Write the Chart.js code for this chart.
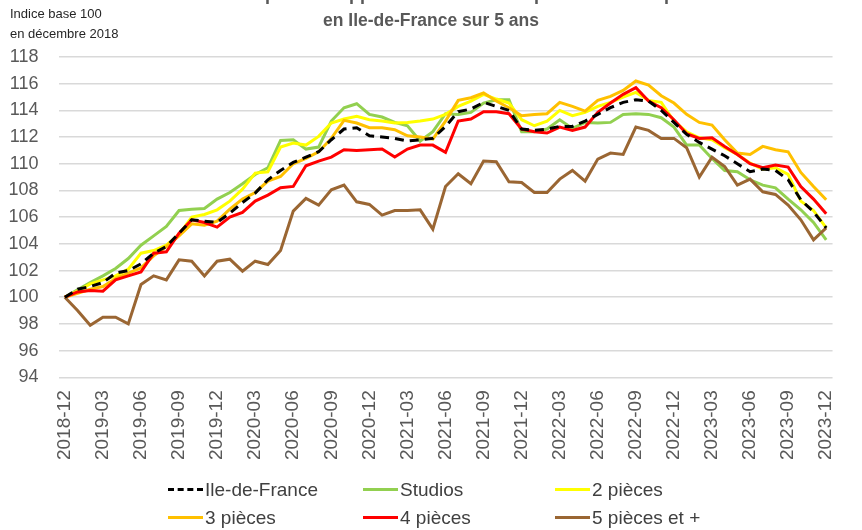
<!DOCTYPE html>
<html>
<head>
<meta charset="utf-8">
<script src="https://cdn.jsdelivr.net/npm/chart.js@4/dist/chart.umd.min.js"></script>
<style>
  body { margin: 0; background: #fff; }
  #wrap { position: relative; width: 862px; height: 530px; overflow: hidden; }
  #legend { position: absolute; left: 0; top: 0; width: 862px; height: 530px; pointer-events: none;
            font-family: "Liberation Sans", Arial, sans-serif; font-size: 19px; color: #404040; }
  .item { position: absolute; height: 24px; line-height: 24px; white-space: nowrap; }
  .swatch { display: inline-block; width: 35px; height: 0; vertical-align: middle; margin-right: 2px; margin-top: -2px; }
</style>
</head>
<body>
<div id="wrap">
  <canvas id="chart"></canvas>
  <div id="legend"></div>
</div>
<script>
const MONTHS = [];
for (let y = 2018; y <= 2023; y++) {
    for (let m = 1; m <= 12; m++) {
        if (y === 2018 && m < 12) continue;
        MONTHS.push(y + '-' + String(m).padStart(2, '0'));
    }
}

const SERIES_NAMES = ['Ile-de-France', 'Studios', '2 pièces', '3 pièces', '4 pièces', '5 pièces et +'];

const IDF = [100, 100.6, 100.8, 101.1, 101.8, 102.0, 102.5, 103.3, 103.8, 104.8, 105.8, 105.7, 105.6, 106.3, 107.1, 107.8,
    108.8, 109.5, 110.1, 110.5, 110.9, 111.8, 112.6, 112.7, 112.1, 112.0, 111.9, 111.7, 111.8, 111.9, 112.8, 113.9, 114.1,
    114.6, 114.3, 114.0, 112.6, 112.5, 112.6, 112.8, 112.8, 113.2, 113.7, 114.2, 114.6, 114.8, 114.7, 114.0, 113.1, 112.2,
    111.6, 111.1, 110.6, 110.0, 109.4, 109.6, 109.5, 108.8, 107.3, 106.4, 105.2];
const STUDIOS = [100, 100.55, 101.1, 101.6, 102.15, 102.9, 103.9, 104.6, 105.3, 106.5, 106.6, 106.65, 107.35, 107.85, 108.5,
    109.2, 109.7, 111.75, 111.8, 111.1, 111.25, 113.2, 114.2, 114.5, 113.7, 113.5, 113.1, 112.85, 111.7, 112.4, 113.75, 113.7,
    113.85, 114.55, 114.8, 114.8, 112.4, 112.4, 112.6, 113.3, 112.65, 113.1, 113.05, 113.1, 113.7, 113.75, 113.7, 113.45,
    112.75, 111.4, 111.4, 110.4, 109.5, 109.4, 108.8, 108.4, 108.2, 107.35, 106.55, 105.6, 104.3];
const P2 = [100, 100.45, 101.0, 101.3, 101.6, 102.1, 103.3, 103.5, 103.9, 104.7, 106.0, 106.2, 106.55, 107.2, 108.1, 109.3,
    109.4, 111.25, 111.55, 111.4, 112.05, 113.05, 113.35, 113.55, 113.3, 113.2, 113.05, 113.1, 113.2, 113.35, 113.7, 114.3,
    114.7, 115.2, 114.85, 114.55, 113.3, 112.85, 113.2, 114.0, 113.6, 113.85, 114.3, 114.6, 115.0, 115.35, 114.75, 114.6,
    113.2, 112.4, 111.95, 111.8, 111.2, 110.7, 110.05, 109.6, 109.7, 109.2, 107.2, 106.5, 105.2];
const P3 = [100, 100.3, 100.6, 100.8, 101.4, 101.8, 102.2, 103.1, 103.8, 104.6, 105.5, 105.4, 105.7, 106.6, 107.35, 107.85,
    108.7, 109.05, 110.0, 110.4, 110.9, 111.9, 113.25, 113.05, 112.7, 112.7, 112.55, 112.1, 112.0, 111.85, 113.2, 114.75,
    114.95, 115.3, 114.7, 114.2, 113.6, 113.7, 113.75, 114.6, 114.3, 113.95, 114.75, 115.05, 115.5, 116.2, 115.9, 115.1,
    114.55, 113.7, 113.1, 112.9, 111.8, 110.8, 110.7, 111.3, 111.05, 110.9, 109.35, 108.3, 107.3];
const P4 = [100, 100.4, 100.5, 100.45, 101.3, 101.6, 101.9, 103.3, 103.4, 104.8, 105.8, 105.6, 105.25, 106.0, 106.35, 107.2,
    107.65, 108.2, 108.3, 109.85, 110.2, 110.5, 111.05, 111.0, 111.05, 111.1, 110.5, 111.1, 111.4, 111.4, 110.85, 113.2,
    113.35, 113.9, 113.9, 113.75, 112.6, 112.4, 112.3, 112.75, 112.5, 112.75, 113.85, 114.55, 115.2, 115.7, 114.7, 114.2,
    113.3, 112.25, 111.9, 111.95, 111.3, 110.7, 110.0, 109.7, 109.9, 109.75, 108.3, 107.35, 106.25];
const P5 = [100, 99.0, 97.9, 98.5, 98.5, 98.0, 100.95, 101.6, 101.3, 102.8, 102.7, 101.6, 102.7, 102.85, 101.95, 102.7,
    102.45, 103.5, 106.45, 107.4, 106.9, 108.05, 108.4, 107.15, 106.95, 106.15, 106.5, 106.5, 106.55, 105.1, 108.3, 109.25,
    108.5, 110.2, 110.15, 108.65, 108.6, 107.85, 107.85, 108.85, 109.5, 108.7, 110.35, 110.8, 110.7, 112.75, 112.5, 111.9,
    111.9, 111.2, 109.0, 110.5, 109.8, 108.4, 108.85, 107.9, 107.7, 106.9, 105.8, 104.3, 105.2];

const COLORS = ['#000000', '#92d050', '#ffff00', '#ffc000', '#ff0000', '#9a6633'];
const VALUES = [IDF, STUDIOS, P2, P3, P4, P5];
const ORDERS = [0, 5, 4, 3, 2, 1];

const TITLE_LINES = ['Evolution des prix des appartements anciens par nombre de pièces', 'en Ile-de-France sur 5 ans'];
const UNIT_LINES = ['Indice base 100', 'en décembre 2018'];

const headerPlugin = {
    id: 'header',
    afterDraw(chart) {
        const ctx = chart.ctx;
        ctx.save();
        ctx.fillStyle = '#595959';
        ctx.font = 'bold 18px "Liberation Sans", Arial, sans-serif';
        ctx.textAlign = 'center';
        ctx.textBaseline = 'alphabetic';
        ctx.fillText(TITLE_LINES[0], 431, 0);
        ctx.font = 'bold 17.5px "Liberation Sans", Arial, sans-serif';
        ctx.fillText(TITLE_LINES[1], 431, 26);
        ctx.fillStyle = '#262626';
        ctx.font = '13px "Liberation Sans Narrow", "Liberation Sans", Arial, sans-serif';
        ctx.textAlign = 'left';
        ctx.fillText(UNIT_LINES[0], 10, 18);
        ctx.fillText(UNIT_LINES[1], 10, 38);
        ctx.restore();
    }
};

function initDatasets() {
    return SERIES_NAMES.map((name, i) => ({
        label: name,
        data: VALUES[i],
        borderColor: COLORS[i],
        backgroundColor: COLORS[i],
        borderWidth: 3,
        borderDash: i === 0 ? [9, 6] : [],
        pointRadius: 0,
        tension: 0,
        order: ORDERS[i]
    }));
}

const chart = new Chart(document.getElementById('chart'), {
    type: 'line',
    data: { labels: MONTHS, datasets: initDatasets() },
    options: {
        responsive: true,
        maintainAspectRatio: false,
        animation: false,
        layout: { padding: { top: 57, left: 0, right: 0, bottom: 52.7 } },
        plugins: {
            legend: { display: false },
            title: { display: false },
            tooltip: { enabled: false }
        },
        scales: {
            x: {
                offset: true,
                grid: { display: false, drawTicks: false },
                border: { display: false },
                afterFit: s => { s.height = 100; },
                ticks: {
                    autoSkip: false,
                    maxRotation: 90,
                    minRotation: 90,
                    padding: 13,
                    color: '#595959',
                    font: { family: '"Liberation Sans", Arial, sans-serif', size: 19 },
                    callback: function (v, i) { return i % 3 === 0 ? this.getLabelForValue(v) : null; }
                }
            },
            y: {
                min: 94,
                max: 118,
                grid: { color: '#d9d9d9', lineWidth: 1.5, drawTicks: false },
                border: { display: false },
                afterFit: s => { s.width = 58.5; },
                ticks: {
                    stepSize: 2,
                    padding: 20,
                    color: '#595959',
                    font: { family: '"Liberation Sans", Arial, sans-serif', size: 18 }
                }
            }
        }
    },
    plugins: [headerPlugin]
});

// legend in three columns like the original
const LEGEND_COLS = [168, 363, 555];
const LEGEND_ROWS = [490, 518];
const legend = document.getElementById('legend');
SERIES_NAMES.forEach((name, i) => {
    const el = document.createElement('div');
    el.className = 'item';
    el.style.left = LEGEND_COLS[i % 3] + 'px';
    el.style.top = (LEGEND_ROWS[Math.floor(i / 3)] - 12) + 'px';
    const sw = document.createElement('span');
    sw.className = 'swatch';
    sw.style.borderTop = '3px ' + (i === 0 ? 'dashed' : 'solid') + ' ' + COLORS[i];
    el.appendChild(sw);
    el.appendChild(document.createTextNode(name));
    legend.appendChild(el);
});
</script>
</body>
</html>
